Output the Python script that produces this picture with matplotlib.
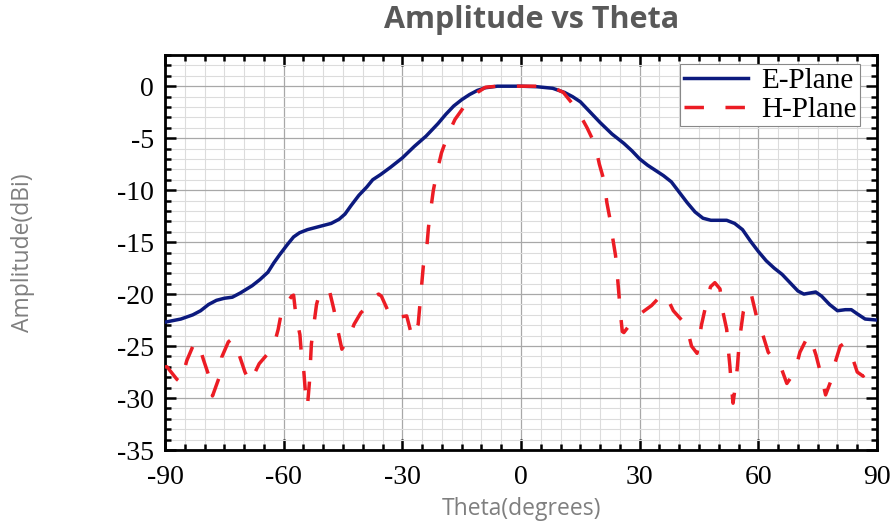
import matplotlib
matplotlib.use("Agg")
import matplotlib.pyplot as plt
from matplotlib.ticker import MultipleLocator

plt.rcParams['axes.unicode_minus'] = False

# ---- data ----
e_theta = [-90, -86, -83, -81, -79, -77, -75, -73, -71, -68, -66, -64, -62.5, -61, -59,
           -57.5, -56, -54, -51, -48, -46, -44.5, -43, -41, -39, -37.5, -35.5, -33, -30,
           -27, -24, -21, -19, -17, -15, -13, -11, -9, -6, 0, 4, 8, 11, 13, 15, 17, 20,
           23, 26, 28, 30, 32, 34, 36, 38, 40, 42, 44, 46, 48, 50, 52, 54, 56, 58, 60,
           62, 64, 66, 68, 70, 71.5, 73, 74.5, 76, 78, 80, 82, 83.5, 85, 87, 90]
e_amp = [-22.7, -22.4, -22.0, -21.6, -21.0, -20.6, -20.4, -20.3, -19.9, -19.2, -18.6,
         -17.9, -17.0, -16.2, -15.2, -14.5, -14.1, -13.8, -13.5, -13.2, -12.8, -12.3,
         -11.5, -10.5, -9.7, -9.0, -8.5, -7.8, -6.9, -5.8, -4.8, -3.6, -2.7, -1.9, -1.3,
         -0.8, -0.4, -0.15, 0, 0, -0.05, -0.2, -0.6, -1.0, -1.5, -2.3, -3.5, -4.6, -5.5,
         -6.2, -7.0, -7.6, -8.1, -8.6, -9.2, -10.2, -11.2, -12.1, -12.7, -12.9, -12.9,
         -12.9, -13.2, -13.8, -14.9, -15.9, -16.8, -17.5, -18.1, -18.9, -19.7, -20.0,
         -19.9, -19.8, -20.2, -21.0, -21.6, -21.5, -21.5, -21.9, -22.4, -22.5]

h_theta = [-90, -89.5, -87, -86, -84.5, -82.5, -81.5, -80.3, -78.8, -78, -76.3, -75.7, -74,
           -73, -71.3, -69.8, -68.5, -66.2, -62.6, -61.4, -60.5, -58, -57.5, -56.9, -55.9,
           -55.5, -54.9, -54.5, -54, -53.5, -53, -52.4, -51.7, -50.7, -50, -48.3, -47.3,
           -46.3, -45.3, -43.7, -42.2, -40.5, -38.6, -36.9, -36, -35.3, -34, -32.9, -31.9,
           -30.6, -28.9, -27.5, -26.0, -25.5, -24.7, -23.8, -23.4, -22.8, -22.2, -21.3,
           -20.1, -18.4, -16.7, -13.9, -11, -9, -6, 0, 6, 8, 10.7, 14.1, 16.7, 18.7, 19.8,
           21.0, 21.7, 22.5, 23.3, 23.9, 24.4, 24.8, 25.2, 25.6, 26.0, 27.4, 29.4, 33.0,
           35.5, 36.5, 38.5, 41.8, 43.1, 44.5, 45.6, 46.9, 47.9, 49.0, 50.3, 51.1, 52.0,
           52.4, 52.8, 53.2, 53.6, 54.2, 54.7, 55.2, 56.2, 57.6, 58.2, 59.5, 61.2, 62.5,
           63.8, 65.3, 67.2, 69.2, 70.5, 72.2, 73.0, 74.6, 75.8, 77.0, 78.2, 79.4, 80.7,
           81.5, 83.6, 85.0, 86.5, 87.8, 90]
h_amp = [-27.0, -27.0, -28.2, -28.5, -26.4, -24.6, -24.8, -26.3, -28.0, -29.8, -28.0, -26.1,
         -24.6, -24.3, -25.8, -27.5, -28.5, -26.7, -25.1, -23.4, -21.6, -20.2, -20.1, -22.1,
         -23.9, -25.9, -27.5, -29.5, -30.8, -28.5, -24.8, -23.0, -21.0, -19.6, -19.5, -19.9,
         -21.5, -23.5, -25.3, -24.4, -22.9, -21.8, -21.1, -20.2, -20.0, -20.2, -21.3, -22.2,
         -22.5, -22.2, -22.1, -24.2, -22.9, -20.7, -17.3, -15.4, -13.6, -11.8, -10.1, -8.3,
         -6.4, -4.6, -3.2, -1.7, -0.6, -0.1, 0, 0, 0, -0.1, -0.6, -2.2, -4.0, -5.6, -7.5,
         -9.1, -11.2, -12.8, -14.9, -16.3, -18.4, -20.2, -22.1, -23.6, -23.7, -23.0, -22.1,
         -21.1, -20.1, -20.0, -21.6, -23.0, -25.0, -25.7, -23.0, -20.8, -19.3, -18.9, -19.5,
         -21.8, -23.4, -25.3, -26.9, -28.9, -30.5, -28.8, -27.0, -24.5, -21.7, -20.2, -20.0,
         -22.1, -24.0, -25.6, -26.2, -26.6, -28.6, -27.5, -25.6, -24.3, -24.0, -25.9, -27.7,
         -29.7, -28.5, -26.6, -25.0, -24.8, -25.9, -27.5, -27.9, -27.2, -27.1]

x_ticks = [-90, -60, -30, 0, 30, 60, 90]
y_ticks = [0, -5, -10, -15, -20, -25, -30, -35]

# ---- figure ----
fig = plt.figure(figsize=(8.95, 5.27), dpi=100)
ax = fig.add_axes([0.1844, 0.1461, 0.7955, 0.7495])

lw = 2.5
ax.plot(e_theta, e_amp, color='#0c1a7e', lw=lw, label='E-Plane', zorder=3,
        solid_joinstyle='round')
ax.plot(h_theta, h_amp, color='#ec1c24', lw=lw, dashes=(5.6, 6.2), label='H-Plane', zorder=4)

ax.set_xlim(-90, 90)
ax.set_ylim(-35, 3)
ax.set_xticks(x_ticks)
ax.set_yticks(y_ticks)
ax.xaxis.set_minor_locator(MultipleLocator(5))
ax.yaxis.set_minor_locator(MultipleLocator(1))

ax.grid(which='major', color='#a8a8a8', lw=0.9)
ax.grid(which='minor', color='#dcdcdc', lw=0.8)
ax.set_axisbelow(True)

for s in ax.spines.values():
    s.set_linewidth(2.0)
ax.tick_params(which='both', direction='in', top=True, right=True, width=1.8)
ax.tick_params(which='major', length=8)
ax.tick_params(which='minor', length=4.5)
ax.tick_params(axis='x', which='major', pad=11)
ax.tick_params(axis='y', which='major', pad=8)

for lab in ax.get_xticklabels() + ax.get_yticklabels():
    lab.set_fontfamily('Liberation Serif')
    lab.set_fontsize(20)

ax.set_xlabel('Theta(degrees)', fontsize=16.5, color='#7f7f7f', family='Open Sans')
ax.xaxis.set_label_coords(0.5, -0.118)
ax.set_ylabel('Amplitude(dBi)', fontsize=16.5, color='#7f7f7f', family='Open Sans')
ax.yaxis.set_label_coords(-0.183, 0.5)
fig.text(0.594, 0.962, 'Amplitude vs Theta', ha='center', va='center', fontsize=22,
         fontweight='bold', color='#595959', family='Open Sans')

leg = ax.legend(loc='upper right', prop={'family': 'Liberation Serif', 'size': 21},
                frameon=True, fancybox=False, edgecolor='#888888', framealpha=1,
                borderpad=0.12, handlelength=2.2, handletextpad=0.45, labelspacing=0.08,
                borderaxespad=0.0, bbox_to_anchor=(0.976, 0.977))
leg.get_frame().set_linewidth(0.8)

fig.savefig('out.png', dpi=100)
